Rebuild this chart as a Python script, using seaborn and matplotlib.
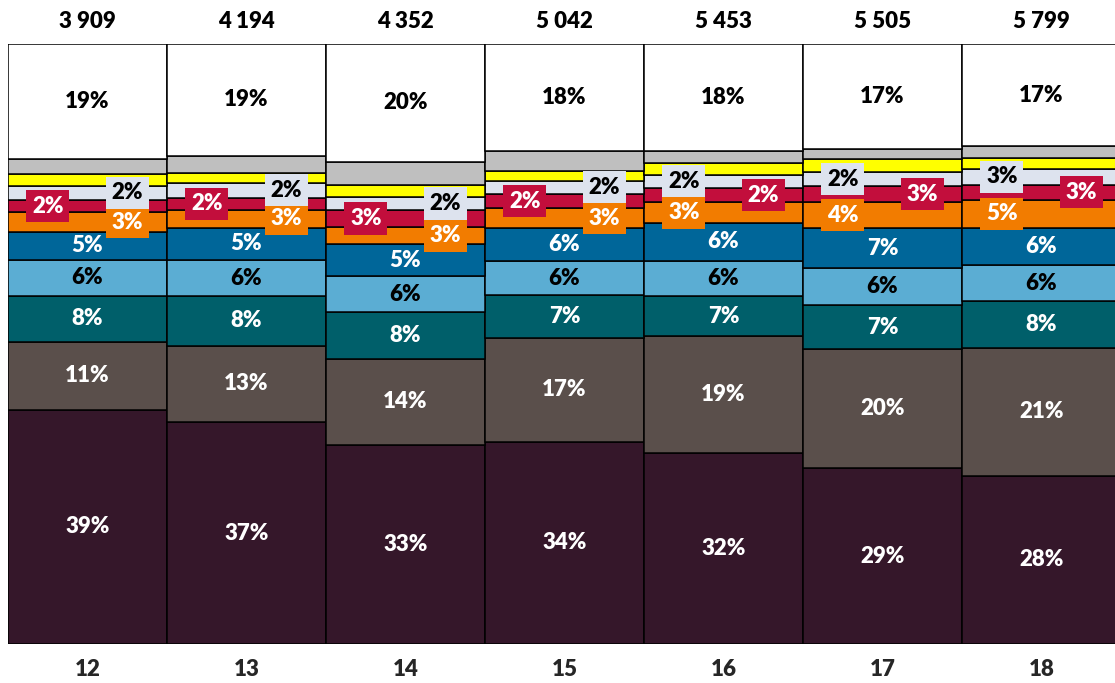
import numpy as np
import pandas as pd
import matplotlib
matplotlib.use("Agg")
import matplotlib.pyplot as plt
import seaborn as sns

# columns (years) and total counts shown above each bar
years = ["12", "13", "14", "15", "16", "17", "18"]
totals = [3909, 4194, 4352, 5042, 5453, 5505, 5799]

# shares in %, from bottom segment to top segment
s_purple = [39.0, 37.0, 33.2, 33.7, 31.8, 29.3, 28.0]
s_brown = [11.3, 12.7, 14.2, 17.3, 19.3, 19.8, 21.3]
s_teal = [7.7, 8.3, 7.8, 7.2, 6.7, 7.3, 7.8]
s_lightblue = [6.0, 6.0, 6.0, 5.6, 5.8, 6.2, 6.0]
s_blue = [4.6, 5.4, 5.4, 5.6, 6.4, 6.6, 6.2]
s_orange = [3.3, 2.9, 2.8, 3.2, 3.4, 4.4, 4.6]
s_red = [2.0, 2.1, 2.9, 2.4, 2.4, 2.6, 2.6]
s_pale = [2.4, 2.4, 2.1, 2.2, 2.2, 2.4, 2.6]
s_yellow = [2.0, 1.7, 2.0, 1.7, 2.0, 2.2, 1.9]
s_gray = [2.4, 2.9, 3.9, 3.2, 1.9, 1.7, 1.9]
s_white = [19.2, 18.6, 19.6, 17.9, 17.8, 17.4, 17.0]

# which side the red box label sits on (-1 left, +1 right); orange/pale go opposite
red_side = [-1, -1, -1, -1, 1, 1, 1]

series = [
    ("purple", s_purple, "#35172A", "white", "center"),
    ("brown", s_brown, "#5A4F4B", "white", "center"),
    ("teal", s_teal, "#005F6A", "white", "center"),
    ("lightblue", s_lightblue, "#5BADD3", "black", "center"),
    ("blue", s_blue, "#006699", "white", "center"),
    ("orange", s_orange, "#F27C00", "white", "opp"),
    ("red", s_red, "#C20E3C", "white", "side"),
    ("pale", s_pale, "#DDE3EE", "black", "opp"),
    ("yellow", s_yellow, "#FFFF00", None, None),
    ("gray", s_gray, "#BFBFBF", None, None),
    ("white", s_white, "#FFFFFF", "black", "center"),
]

sns.set_theme(style="white")
plt.rcParams["font.family"] = ["Lato", "DejaVu Sans"]
plt.rcParams["font.weight"] = "bold"
W = "heavy"

fig = plt.figure(figsize=(11.15, 6.83), dpi=100)
ax = fig.add_axes([8 / 1115, 39 / 683, 1113 / 1115, 600 / 683])

raw = np.array([s for _, s, _, _, _ in series])
shares = raw / raw.sum(axis=0) * 100

bottom = np.zeros(len(years))
for k, (name, _, color, tcolor, pos) in enumerate(series):
    vals = shares[k]
    df = pd.DataFrame({"year": years, "share": vals})
    sns.barplot(data=df, x="year", y="share", color=color, width=1.0,
                bottom=bottom, edgecolor="black", linewidth=1.1,
                saturation=1, errorbar=None, ax=ax)
    if tcolor is not None:
        for i, v in enumerate(vals):
            yc = bottom[i] + v / 2
            txt = f"{round(raw[k][i]):.0f}%"
            if pos == "center":
                ax.text(i, yc, txt, ha="center", va="center", color=tcolor,
                        fontsize=16, fontweight=W)
            else:
                side = red_side[i] if pos == "side" else -red_side[i]
                ax.text(i + 0.25 * side, yc, txt, ha="center", va="center",
                        color=tcolor, fontsize=16, fontweight=W, zorder=5,
                        bbox=dict(boxstyle="square,pad=0.25", facecolor=color,
                                  edgecolor="none"))
    bottom = bottom + vals

for i, t in enumerate(totals):
    ax.text(i, 103.7, f"{t:,}".replace(",", " "), ha="center", va="center",
            fontsize=16, fontweight=W, color="black", clip_on=False)

ax.set_xlim(-0.5, 6.5)
ax.set_ylim(0, 100)
ax.set_xlabel("")
ax.set_ylabel("")
ax.set_yticks([])
ax.tick_params(axis="x", length=0, pad=11, labelsize=16)
for lab in ax.get_xticklabels():
    lab.set_fontweight(W)
for sp in ax.spines.values():
    sp.set_visible(False)

fig.savefig("out.png", dpi=100, facecolor="white")
